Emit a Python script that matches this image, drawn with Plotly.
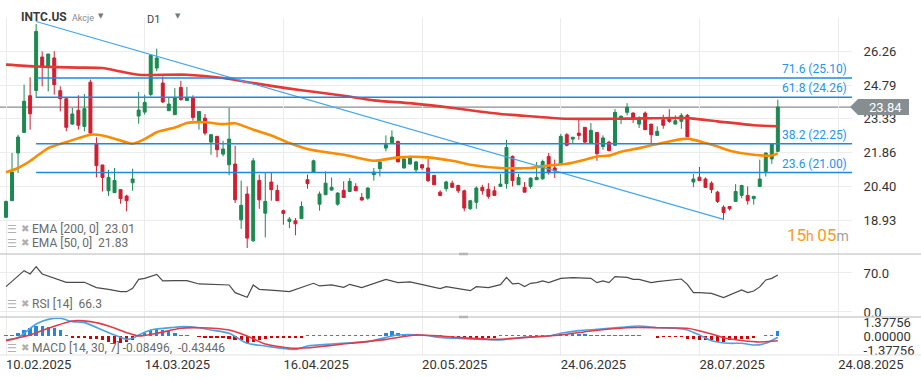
import plotly.graph_objects as go

W, H = 921, 380
PLOT_R = 852  # right edge of plotting area (px)

# ---------------- data ----------------
tick_bars = [0, 23, 46, 69, 92, 115, 138]
tick_labels = ["10.02.2025", "14.03.2025", "16.04.2025", "20.05.2025",
               "24.06.2025", "28.07.2025", "24.08.2025"]

opens = [19.06, 19.78, 21.85, 22.74, 24.33, 24.56, 26.01, 25.60, 25.97, 24.55,
         24.20, 23.10, 23.70, 23.00, 24.92, 22.24, 21.33, 20.21, 20.13, 20.26,
         19.98, 20.56, 23.45, 23.62, 24.38, 25.53, 24.88, 23.68, 23.51, 24.69,
         24.12, 24.23, 23.22, 23.36, 22.32, 22.57, 21.80, 21.34, 21.37, 18.95,
         20.07, 18.04, 20.66, 19.24, 20.59, 20.23, 19.35, 18.88, 18.91, 19.00,
         20.69, 21.02, 19.63, 20.04, 20.24, 19.63, 20.23, 20.18, 20.40, 19.92,
         19.89, 20.91, 21.17, 22.06, 22.28, 22.35, 21.20, 21.37, 21.12, 21.34,
         21.20, 20.88, 20.15, 20.30, 20.54, 20.44, 20.21, 19.43, 19.71, 20.36,
         20.28, 20.21, 20.40, 20.52, 21.70, 20.47, 20.36, 20.40, 20.69, 20.73,
         21.70, 21.20, 21.37, 22.64, 22.45, 22.71, 22.96, 22.28, 22.74, 22.13,
         22.32, 22.18, 23.36, 23.61, 23.58, 23.10, 23.58, 23.10, 22.61, 23.29,
         23.39, 23.10, 23.22, 23.48, 20.59, 20.80, 20.72, 20.54, 20.15, 19.50,
         19.53, 19.75, 20.01, 20.01, 19.87, 20.40, 21.05, 21.59, 21.92]
highs = [19.78, 21.85, 22.64, 24.81, 25.13, 27.44, 26.25, 26.14, 26.26, 24.74,
         24.26, 23.80, 24.35, 24.40, 25.03, 22.53, 21.33, 21.12, 21.20, 20.26,
         20.04, 21.17, 24.49, 24.38, 26.10, 26.37, 25.17, 24.26, 24.66, 24.98,
         24.71, 24.35, 23.65, 23.54, 22.68, 22.57, 22.38, 23.80, 22.16, 20.65,
         20.40, 21.63, 20.91, 20.98, 20.98, 20.47, 19.39, 19.07, 19.03, 19.75,
         20.91, 21.56, 20.18, 21.05, 20.79, 20.15, 20.62, 20.76, 20.54, 20.11,
         20.36, 21.20, 21.56, 22.61, 22.83, 22.38, 21.63, 21.73, 21.51, 21.37,
         21.60, 20.88, 20.23, 20.65, 20.65, 20.47, 20.26, 19.82, 20.40, 20.47,
         20.54, 20.40, 20.94, 22.42, 21.74, 20.94, 20.59, 20.79, 21.46, 21.56,
         21.85, 21.56, 22.67, 22.71, 22.55, 23.29, 22.96, 23.15, 22.74, 22.61,
         22.38, 23.75, 23.48, 24.01, 23.61, 23.44, 23.65, 23.10, 23.00, 23.51,
         23.75, 23.48, 23.58, 23.54, 20.94, 21.24, 20.79, 20.62, 20.21, 19.58,
         19.53, 20.50, 20.47, 20.40, 19.98, 21.56, 21.86, 22.25, 24.16]
lows = [19.03, 19.78, 20.98, 22.74, 22.86, 24.23, 24.74, 24.52, 24.38, 23.65,
        22.79, 23.07, 22.86, 22.79, 22.64, 20.79, 20.18, 19.99, 20.13, 19.65,
        19.32, 20.21, 23.12, 23.51, 24.30, 25.39, 24.01, 23.68, 23.51, 24.12,
        24.12, 23.25, 22.86, 22.61, 21.77, 21.66, 21.70, 20.88, 19.68, 18.56,
        17.73, 18.00, 19.43, 18.19, 19.78, 19.78, 18.74, 18.59, 18.28, 19.00,
        20.30, 21.02, 19.35, 20.04, 20.21, 19.56, 19.92, 20.15, 20.21, 19.78,
        19.82, 20.65, 20.83, 21.92, 22.24, 21.46, 21.17, 21.34, 21.02, 21.12,
        20.59, 20.47, 19.97, 20.18, 20.36, 20.11, 19.32, 19.39, 19.43, 20.04,
        19.87, 20.01, 20.40, 20.30, 20.40, 20.47, 20.15, 20.30, 20.69, 20.69,
        20.91, 20.76, 21.37, 22.13, 22.24, 22.42, 22.28, 22.24, 21.51, 21.99,
        21.92, 22.18, 23.10, 23.48, 23.15, 22.93, 22.86, 22.28, 22.61, 22.90,
        23.15, 23.10, 22.90, 22.55, 20.37, 20.65, 20.33, 20.11, 19.68, 18.95,
        19.35, 19.75, 19.89, 19.61, 19.61, 20.40, 20.83, 21.38, 21.89]
closes = [19.75, 21.02, 22.54, 24.09, 23.55, 27.12, 25.60, 26.14, 24.81, 24.20,
          22.96, 23.54, 23.05, 23.77, 22.71, 21.30, 20.79, 20.79, 20.66, 19.87,
          19.78, 20.72, 23.71, 24.04, 26.08, 25.97, 24.06, 23.97, 24.23, 24.16,
          24.23, 23.39, 23.65, 22.71, 22.64, 21.99, 22.02, 22.45, 19.82, 19.58,
          18.16, 21.51, 19.82, 19.75, 20.26, 19.78, 19.23, 18.98, 18.78, 19.53,
          20.52, 21.51, 20.07, 20.54, 20.36, 20.11, 19.92, 20.62, 20.21, 19.81,
          20.33, 21.02, 21.46, 22.21, 22.54, 21.46, 21.59, 21.70, 21.46, 21.20,
          20.65, 20.47, 20.01, 20.59, 20.36, 20.21, 19.46, 19.78, 20.33, 20.21,
          19.97, 20.01, 20.50, 22.09, 20.65, 20.79, 20.15, 20.76, 20.79, 21.48,
          21.02, 21.08, 22.57, 22.18, 22.53, 22.61, 22.32, 22.83, 21.82, 22.50,
          21.95, 23.61, 23.44, 23.83, 23.36, 23.29, 22.86, 22.64, 22.79, 23.05,
          23.22, 23.25, 23.48, 22.55, 20.72, 20.65, 20.36, 20.26, 19.75, 19.27,
          19.43, 20.18, 20.44, 19.78, 19.97, 20.72, 21.85, 22.24, 23.84]
bars = list(range(len(closes)))

ema200_bars = [0, 5, 12, 16, 19, 22, 30, 36, 41, 47, 51, 56, 61, 67, 72, 77,
               82, 87, 93, 103, 113, 118, 124, 128]
ema200 = [25.68, 25.60, 25.55, 25.53, 25.38, 25.24, 25.24, 25.10, 24.88, 24.64,
          24.50, 24.33, 24.13, 24.01, 23.87, 23.70, 23.54, 23.44, 23.33, 23.34,
          23.36, 23.22, 23.05, 23.01]

ema50_bars = [0, 2, 4, 7, 10, 14, 16, 18, 21, 23, 25, 28, 30, 33, 36, 38, 41,
              44, 47, 50, 52, 56, 61, 65, 70, 74, 77, 82, 87, 90, 93, 96, 98,
              100, 102, 105, 107, 110, 113, 116, 118, 120, 124, 127, 128]
ema50 = [21.01, 21.20, 21.50, 22.06, 22.32, 22.64, 22.61, 22.47, 22.25, 22.45,
         22.75, 22.95, 23.15, 23.18, 23.10, 23.14, 22.86, 22.61, 22.28, 22.02,
         21.92, 21.77, 21.51, 21.66, 21.66, 21.51, 21.34, 21.20, 21.20, 21.30,
         21.38, 21.56, 21.70, 21.74, 21.90, 22.06, 22.18, 22.35, 22.47, 22.28,
         22.13, 21.95, 21.77, 21.74, 21.83]

trend_bars = [5, 119]
trend_prices = [27.55, 18.97]

fib_levels = [25.10, 24.26, 22.25, 21.00]
fib_labels = ["71.6 (25.10)", "61.8 (24.26)", "38.2 (22.25)", "23.6 (21.00)"]
fib_start_bar = 5

price_ticks = [26.26, 24.79, 23.33, 21.86, 20.40, 18.93, 17.46]

rsi_bars = [0, 3, 4, 5, 6, 8, 10, 13, 15, 17, 19, 20, 21, 22, 23, 25, 26, 28, 30, 32,
            35, 37, 38, 40, 41, 42, 45, 47, 51, 52, 54, 56, 57, 59, 63, 65, 67, 70, 72, 73,
            75, 77, 78, 80, 82, 83, 84, 85, 86, 87, 88, 89, 90, 92, 94, 97, 98, 99, 100, 101,
            103, 104, 105, 107, 108, 110, 112, 113, 114, 115, 117, 119, 120, 122, 123, 124,
            125, 126, 127, 128]
rsi = [45.5, 74.2, 68.2, 81.4, 68.2, 60.4, 53.3, 53.3, 43.7, 40.7,
       36.5, 36.5, 42.5, 58.6, 60.4, 67.6, 55.7, 56.3, 56.3, 50.3,
       48.5, 48.5, 34.7, 26.3, 48.5, 40.7, 38.3, 36.5, 51.5, 46.7,
       48.5, 44.3, 49.7, 43.7, 58.6, 52.7, 53.9, 46.7, 41.9, 45.5,
       42.5, 38.3, 45.5, 43.7, 49.1, 62.2, 50.3, 51.5, 45.5, 51.5,
       52.7, 55.7, 52.7, 60.4, 61.6, 60.4, 52.7, 55.7, 52.7, 63.4,
       62.2, 58.6, 58.6, 52.7, 54.5, 57.5, 59.2, 49.7, 34.7, 34.7,
       33.5, 25.7, 30.5, 39.5, 34.7, 37.7, 45.0, 57.5, 60.4, 66.3]

macd_bars = [0, 2, 5, 7, 9, 11, 13, 16, 18, 20, 21, 22, 24, 28, 29, 32, 34, 37, 40, 43,
             48, 50, 54, 60, 63, 65, 69, 72, 75, 79, 82, 86, 90, 92, 95, 98, 102, 105, 108,
             111, 113, 115, 117, 120, 122, 124, 126, 128]
macd = [-0.35, -0.09, 1.26, 1.73, 1.84, 1.50, 1.40, 0.66, 0.15, -0.29,
        -0.19, 0.15, 0.66, 0.93, 0.99, 0.89, 0.66, 0.32, -0.69, -0.96,
        -1.30, -0.96, -0.76, -0.52, -0.09, 0.15, 0.15, -0.09, -0.19, -0.29,
        -0.35, -0.09, 0.05, 0.32, 0.59, 0.73, 0.93, 1.06, 0.89, 0.83,
        0.66, 0.15, -0.42, -0.69, -0.69, -0.86, -0.69, -0.08]
signal_bars = [0, 4, 7, 11, 14, 17, 20, 22, 25, 29, 32, 37, 40, 43, 48, 52, 57, 63, 68,
               72, 75, 81, 86, 92, 97, 103, 108, 113, 117, 119, 122, 125, 128]
signal = [-0.42, 0.15, 0.83, 1.57, 1.50, 1.06, 0.39, 0.05, 0.32, 0.83,
          0.89, 0.66, 0.05, -0.76, -1.20, -1.03, -0.69, -0.29, 0.15, 0.05,
          -0.09, -0.29, -0.09, 0.15, 0.56, 0.89, 0.89, 0.83, 0.25, -0.12,
          -0.40, -0.55, -0.43]
hist = [0.17, 0.20, 0.40, 0.67, 0.84, 1.08, 1.08, 1.01, 0.84, 0.61,
        0.20, -0.12, -0.20, -0.20, -0.22, -0.30, -0.36, -0.51, -0.61, -0.61,
        -0.51, -0.40, 0.20, 0.40, 0.61, 0.74, 0.61, 0.51, 0.34, 0.20,
        0.17, 0.10, -0.10, -0.20, -0.20, -0.20, -0.20, -0.22, -0.34, -0.40,
        -0.67, -0.51, -0.34, -0.22, -0.20, -0.20, -0.20, -0.20, -0.20, -0.20,
        0.17, 0.17, 0.17, 0.17, 0.17, 0.17, 0.17, 0.17, 0.17, 0.17,
        0.17, 0.20, 0.20, 0.40, 0.51, 0.40, 0.30, 0.30, 0.30, 0.20,
        0.20, 0.17, 0.17, -0.20, -0.20, -0.20, -0.20, -0.20, -0.22, -0.20,
        -0.12, -0.12, 0.17, 0.17, 0.17, 0.17, 0.17, 0.20, 0.20, 0.20,
        0.20, 0.30, 0.30, 0.30, 0.30, 0.30, 0.30, 0.17, 0.17, 0.17,
        0.17, 0.17, 0.17, 0.17, 0.17, 0.17, 0.10, 0.10, -0.20, -0.10,
        -0.10, -0.10, -0.10, -0.22, -0.30, -0.36, -0.40, -0.40, -0.51, -0.51,
        -0.40, -0.36, -0.30, -0.22, -0.20, 0.10, 0.20, 0.20, 0.51]
macd_ticks = [1.37756, 0.0, -1.37756]

# ---------------- styling ----------------
GREEN = "#1b8950"
RED = "#cf1f30"
FONT = "Roboto"
GRID = "#ececec"


def px(x):
    return x / W


def py(y):
    return 1 - y / H


X_RANGE = [-0.995, 140.3]

fig = go.Figure()

fig.add_trace(go.Candlestick(
    x=bars, open=opens, high=highs, low=lows, close=closes,
    increasing=dict(line=dict(color=GREEN, width=1), fillcolor=GREEN),
    decreasing=dict(line=dict(color=RED, width=1), fillcolor=RED),
    whiskerwidth=0, hoverinfo="skip", xaxis="x", yaxis="y"))

fig.add_trace(go.Scatter(x=ema200_bars, y=ema200, mode="lines",
                         line=dict(color="#e53935", width=2.6, shape="spline", smoothing=0.6),
                         hoverinfo="skip", xaxis="x", yaxis="y"))
fig.add_trace(go.Scatter(x=ema50_bars, y=ema50, mode="lines",
                         line=dict(color="#fb8c00", width=2.6, shape="spline", smoothing=0.6),
                         hoverinfo="skip", xaxis="x", yaxis="y"))
fig.add_trace(go.Scatter(x=trend_bars, y=trend_prices, mode="lines",
                         line=dict(color="#42a5f5", width=1.2),
                         hoverinfo="skip", xaxis="x", yaxis="y"))

# RSI
fig.add_trace(go.Scatter(x=rsi_bars, y=rsi, mode="lines",
                         line=dict(color="#4a4a4a", width=1.2),
                         hoverinfo="skip", xaxis="x", yaxis="y2"))

# MACD
fig.add_trace(go.Bar(x=bars, y=hist, width=0.55,
                     marker=dict(color=["#1e88e5" if v >= 0 else "#d50000" for v in hist],
                                 line=dict(width=0)),
                     hoverinfo="skip", xaxis="x", yaxis="y3"))
fig.add_trace(go.Scatter(x=macd_bars, y=macd, mode="lines",
                         line=dict(color="#4aa3e8", width=1.6, shape="spline", smoothing=0.6),
                         hoverinfo="skip", xaxis="x", yaxis="y3"))
fig.add_trace(go.Scatter(x=signal_bars, y=signal, mode="lines",
                         line=dict(color="#e53945", width=1.6, shape="spline", smoothing=0.6),
                         hoverinfo="skip", xaxis="x", yaxis="y3"))

shapes = []
# fib lines
for lv in fib_levels:
    shapes.append(dict(type="line", xref="x", yref="y", x0=fib_start_bar, x1=X_RANGE[1],
                       y0=lv, y1=lv, line=dict(color="#1e88e5", width=1.5), layer="above"))
# current price line
last = closes[-1]
shapes.append(dict(type="line", xref="x", yref="y", x0=X_RANGE[0], x1=X_RANGE[1],
                   y0=last, y1=last, line=dict(color="#8c8c8c", width=1.3), layer="below"))
# price tag arrow/box
shapes.append(dict(type="path", xref="paper", yref="y", xsizemode="pixel", ysizemode="pixel",
                   xanchor=px(PLOT_R), yanchor=last,
                   path="M -2,0 L 6,8 L 57,8 L 57,-8 L 6,-8 Z",
                   fillcolor="#868e91", line=dict(width=0)))
# panel separators
for yy, col, wd in [(254, "#cfcfcf", 1.5), (317, "#cfcfcf", 1.5), (355, "#e3e3e3", 1)]:
    shapes.append(dict(type="line", xref="paper", yref="paper", x0=0, x1=1,
                       y0=py(yy), y1=py(yy), line=dict(color=col, width=wd)))
for yy in (254, 317):
    shapes.append(dict(type="line", xref="paper", yref="paper", x0=px(459), x1=px(468),
                       y0=py(yy), y1=py(yy), line=dict(color="#b5b5b5", width=2.5)))

ann = []
for lv, lab in zip(fib_levels, fib_labels):
    ann.append(dict(text=lab, xref="paper", yref="y", x=px(PLOT_R - 3), y=lv, yshift=9,
                    xanchor="right", yanchor="middle", showarrow=False,
                    font=dict(family=FONT, size=12, color="#2196f3")))
ann.append(dict(text="%.2f" % last, xref="paper", yref="y", x=px(PLOT_R + 33), y=last,
                xanchor="center", yanchor="middle", showarrow=False,
                font=dict(family=FONT, size=13, color="white")))

# header
ann.append(dict(text="<b>INTC.US</b>", xref="paper", yref="paper", x=px(19), y=py(17),
                xanchor="left", yanchor="middle", showarrow=False,
                font=dict(family=FONT, size=12, color="#3a3a3a")))
ann.append(dict(text="Akcje", xref="paper", yref="paper", x=px(70), y=py(18),
                xanchor="left", yanchor="middle", showarrow=False,
                font=dict(family=FONT, size=9, color="#8a8a8a")))
for xx in (101, 178):
    ann.append(dict(text="▼", xref="paper", yref="paper", x=px(xx), y=py(16),
                    xanchor="center", yanchor="middle", showarrow=False,
                    font=dict(family="DejaVu Sans", size=7, color="#777")))
ann.append(dict(text="D1", xref="paper", yref="paper", x=px(145), y=py(19),
                xanchor="left", yanchor="middle", showarrow=False,
                font=dict(family=FONT, size=11, color="#444")))

# indicator legends
legend_rows = [("EMA [200, 0]  23.01", 229), ("EMA [50, 0]  21.83", 243),
               ("RSI [14]  66.3", 304), ("MACD [14, 30, 7] -0.08496,  -0.43446", 348)]
for txt, yy in legend_rows:
    ann.append(dict(text="☰", xref="paper", yref="paper", x=px(5), y=py(yy),
                    xanchor="left", yanchor="middle", showarrow=False,
                    font=dict(family="DejaVu Sans", size=11, color="#b0b0b0")))
    ann.append(dict(text="✖", xref="paper", yref="paper", x=px(19), y=py(yy - 1),
                    xanchor="left", yanchor="middle", showarrow=False,
                    font=dict(family="DejaVu Sans", size=10, color="#b0b0b0")))
    ann.append(dict(text=txt, xref="paper", yref="paper", x=px(30), y=py(yy),
                    xanchor="left", yanchor="middle", showarrow=False,
                    font=dict(family=FONT, size=12, color="#6a6a6a")))

# countdown
ann.append(dict(text='<span style="font-size:17px">15</span>h <span style="font-size:17px">05</span>'
                     '<span style="color:#9e9e9e">m</span>',
                xref="paper", yref="paper", x=px(851), y=py(235),
                xanchor="right", yanchor="middle", showarrow=False,
                font=dict(family=FONT, size=14, color="#fb9a1e")))

axis_font = dict(family=FONT, size=13, color="#333333")

fig.update_layout(
    width=W, height=H, margin=dict(l=0, r=0, t=0, b=0, autoexpand=False),
    paper_bgcolor="white", plot_bgcolor="white", showlegend=False,
    bargap=0, shapes=shapes, annotations=ann,
    xaxis=dict(domain=[0, px(PLOT_R)], range=X_RANGE, anchor="y3", automargin=False,
               tickmode="array", tickvals=tick_bars, ticktext=tick_labels,
               ticklabelposition="outside right", ticks="", showgrid=True,
               gridcolor=GRID, gridwidth=1, zeroline=False, showline=False,
               tickfont=axis_font, rangeslider=dict(visible=False), fixedrange=True),
    yaxis=dict(domain=[py(254), py(18)], range=[17.47, 27.70], anchor="x", side="right",
               automargin=False, tickmode="array", tickvals=price_ticks,
               ticktext=["%.2f" % v for v in price_ticks],
               ticks="outside", ticklen=8, tickcolor="rgba(0,0,0,0)",
               showgrid=True, gridcolor=GRID, zeroline=False, tickfont=axis_font),
    yaxis2=dict(domain=[py(317), py(254)], range=[-9, 104.1], anchor="x", side="right",
                automargin=False, tickmode="array", tickvals=[70, 0], ticktext=["70.0", "0.0"],
                ticks="outside", ticklen=8, tickcolor="rgba(0,0,0,0)",
                showgrid=True, gridcolor=GRID, zeroline=False, tickfont=axis_font),
    yaxis3=dict(domain=[py(355), py(317)], range=[-1.87, 1.97], anchor="x", side="right",
                automargin=False, tickmode="array", tickvals=macd_ticks,
                ticktext=["%.5f" % v for v in macd_ticks],
                ticks="outside", ticklen=8, tickcolor="rgba(0,0,0,0)",
                showgrid=False, zeroline=False, tickfont=axis_font),
)

fig.write_html("out.html", config={"displayModeBar": False, "staticPlot": True},
               post_script="document.body.style.margin='0';document.body.style.overflow='hidden';")
